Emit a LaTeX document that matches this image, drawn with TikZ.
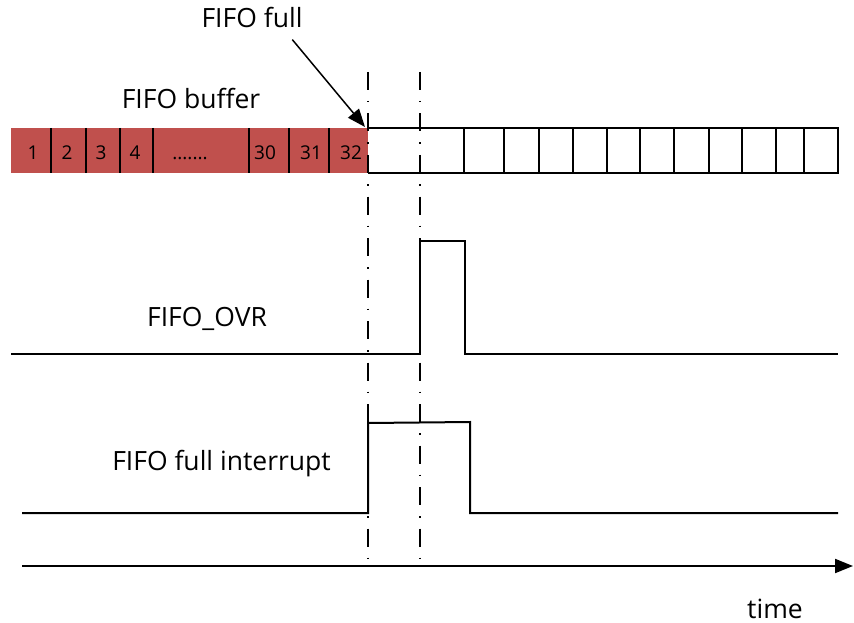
\documentclass[tikz,border=0pt]{standalone}
\usepackage{fontspec}
\setmainfont{Open Sans}
\usetikzlibrary{arrows.meta}
\definecolor{fifored}{HTML}{C0504D}
\newcommand\fifodots{.......}

\begin{document}
\begin{tikzpicture}[x=1pt,y=-1pt,line width=2pt,
  guide/.style={line width=1.5pt,dash pattern=on 18pt off 11pt on 1.5pt off 11pt},
  lbl/.style={font=\fontsize{26.5}{31}\selectfont,anchor=base},
  cellno/.style={font=\fontsize{19}{23}\selectfont,anchor=base},
  bigtip/.style={-{Triangle[length=18pt,width=14pt]}}]
  \useasboundingbox (0,0) rectangle (854,623);

  % filled part of the buffer
  \fill[fifored] (11,128) rectangle (368,173);
  \foreach \x in {51,86,120,153,249,289,329}
    \draw (\x,128) -- (\x,173);
  \foreach \x/\t [count=\i] in {33/1,67/2,101/3,135/4,190/\fifodots,265/30,311/31,351/32}
    \node[cellno] (cell\i) at (\x,160) {\t};

  % empty part of the buffer
  \draw (368,128) -- (838,128) -- (838,173) -- (368,173);
  \foreach \x in {464,504,539,573,607,640,674,709,742,776,804}
    \draw (\x,128) -- (\x,173);

  \node[lbl] (buf) at (191,109) {FIFO buffer};
  \node[lbl] (full) at (252,28) {FIFO full};
  \coordinate (fullpt) at (365,127);
  \draw[bigtip,line width=1.5pt] ([xshift=-14.5pt,yshift=-7pt]full.south east) -- (fullpt);

  % FIFO_OVR
  \node[lbl] (ovr) at (207,326) {FIFO\_OVR};
  \draw (11,354) -- (420,354) -- (420,241) -- (465,241) -- (465,354) -- (838,354);

  % FIFO full interrupt
  \node[lbl] (irq) at (221.5,470) {FIFO full interrupt};
  \draw (22,513) -- (368,513) -- (368,423) -- (470,422) -- (470,513) -- (838,513);

  % time axis
  \coordinate (t0) at (22,566);
  \coordinate (t1) at (853,566);
  \draw[bigtip] (t0) -- (t1);
  \node[lbl,inner sep=1pt] (time) at (775,618) {time};

  % guide lines
  \draw[guide] (368,72) -- (368,566);
  \draw[guide] (420,72) -- (420,566);
\end{tikzpicture}
\end{document}
